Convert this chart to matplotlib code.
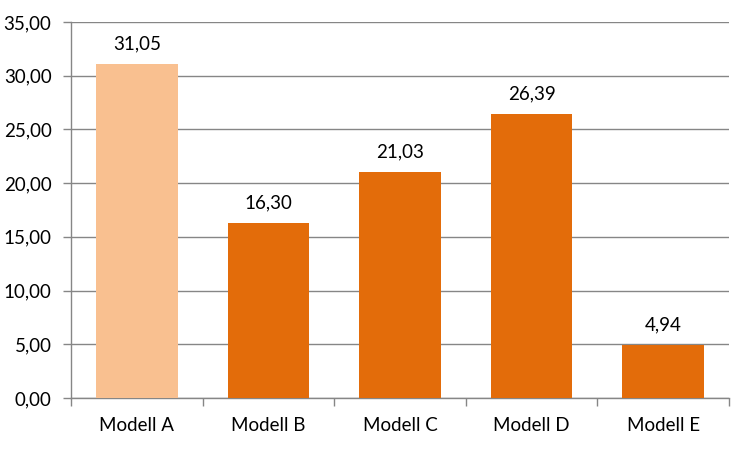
import matplotlib
matplotlib.use("Agg")
import matplotlib.pyplot as plt
from matplotlib.ticker import FixedLocator

categories = ["Modell A", "Modell B", "Modell C", "Modell D", "Modell E"]
values = [31.05, 16.30, 21.03, 26.39, 4.94]
bar_colors = ["#F9C090", "#E36C0A", "#E36C0A", "#E36C0A", "#E36C0A"]
yticks = [0, 5, 10, 15, 20, 25, 30, 35]

plt.rcParams['font.family'] = ['Lato', 'DejaVu Sans']
FS = 13.5

fig = plt.figure(figsize=(7.5, 4.5), dpi=100)
ax = fig.add_axes([71/750, 1-398/450, (729-71)/750, (398-22)/450])

x = list(range(len(categories)))
ax.bar(x, values, width=0.62, color=bar_colors, zorder=3)

def fmt(v):
    return f"{v:.2f}".replace(".", ",")

for xi, v in zip(x, values):
    ax.text(xi, v + 1.1, fmt(v), ha="center", va="bottom", fontsize=FS, color="#000000")

ax.set_xlim(-0.5, len(categories) - 0.5)
ax.set_ylim(0, 35)
ax.set_yticks(yticks)
ax.set_yticklabels([fmt(t) for t in yticks], fontsize=FS)
ax.yaxis.grid(True, color="#868686", linewidth=1, zorder=0)
ax.set_axisbelow(True)

ax.set_xticks(x)
ax.set_xticklabels(categories, fontsize=FS)
ax.tick_params(axis="x", which="major", length=0, pad=14)
ax.xaxis.set_minor_locator(FixedLocator([i - 0.5 for i in range(len(categories) + 1)]))
ax.tick_params(axis="x", which="minor", length=6, color="#868686", width=1)
ax.tick_params(axis="y", length=6, color="#868686", width=1, pad=8)

for s in ["top", "right"]:
    ax.spines[s].set_visible(False)
for s in ["left", "bottom"]:
    ax.spines[s].set_color("#868686")
    ax.spines[s].set_linewidth(1)

fig.savefig("out.png", dpi=100)
